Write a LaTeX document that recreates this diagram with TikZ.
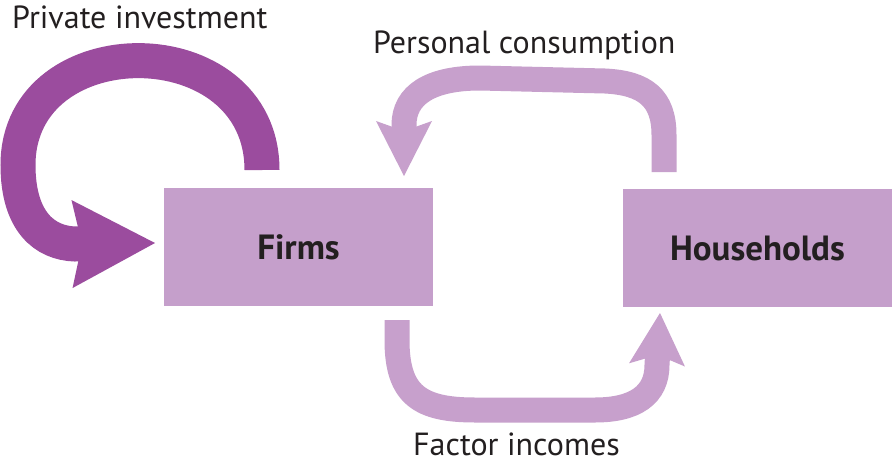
\documentclass[tikz,border=0pt]{standalone}
\usepackage{fontspec}
\setmainfont{PT Sans}
\usetikzlibrary{arrows.meta}
\definecolor{boxc}{HTML}{C59FCB}
\definecolor{lightarr}{HTML}{C7A0CC}
\definecolor{darkarr}{HTML}{9B4C9E}
\definecolor{txt}{HTML}{231F20}
\begin{document}
\begin{tikzpicture}[x=1pt,y=-1pt,
  box/.style={fill=boxc, minimum width=269pt, minimum height=118pt, inner sep=0pt,
    font=\fontsize{35}{40}\selectfont\bfseries, text=txt},
  lab/.style={anchor=base west, inner sep=0pt, font=\fontsize{32}{38}\selectfont, text=txt},
  flow/.style={line width=25pt, draw=lightarr},
  bigflow/.style={line width=35pt, draw=darkarr}]
\useasboundingbox (0,0) rectangle (892,469);
\fill[white] (0,0) rectangle (892,469);
\node[box] (firms) at (298.5,247) {Firms};
\node[box] (hh) at (757.5,248) {Households};
\node[lab] (pi) at (12,28) {Private investment};
\node[lab] (pc) at (373,53) {Personal consumption};
\node[lab] (fi) at (413,455) {Factor incomes};
% private investment loop
\coordinate (pi0) at (262,170);
\coordinate (pi1) at (18,165);
\coordinate (pi2) at (155,243);
\draw[bigflow, -{Stealth[length=83pt,width=88pt,inset=10pt,line width=0pt,fill=darkarr]}]
  (pi0) .. controls (262,25) and (18,25) .. (pi1)
  .. controls (18,222) and (45,243) .. (75,244) -- (pi2);
% personal consumption
\coordinate (pc0) at (664,172);
\coordinate (pc1) at (404,176);
\draw[flow, -{Stealth[length=55pt,width=56pt,inset=10pt,line width=0pt,fill=lightarr]}]
  (pc0) -- (664,135) .. controls (664,98) and (645,83) .. (605,81) -- (480,78)
  .. controls (430,78) and (404,95) .. (404,125) -- (pc1);
% factor incomes
\coordinate (fi0) at (397,320);
\coordinate (fi1) at (660,313);
\draw[flow, -{Stealth[length=52pt,width=56pt,inset=10pt,line width=0pt,fill=lightarr]}]
  (fi0) -- (397,340) .. controls (397,395) and (420,410) .. (475,410) -- (595,410)
  .. controls (635,410) and (657,395) .. (657,365) -- (fi1);
\end{tikzpicture}
\end{document}
